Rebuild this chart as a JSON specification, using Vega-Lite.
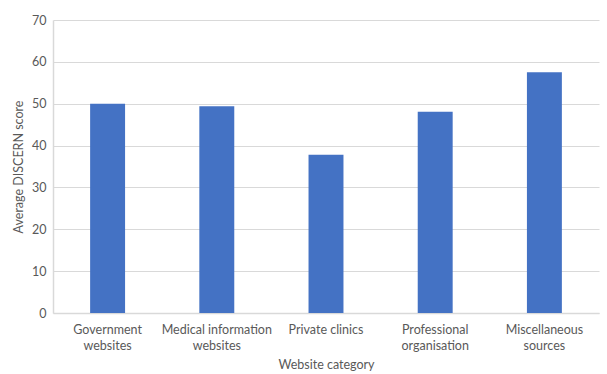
{
  "$schema": "https://vega.github.io/schema/vega-lite/v6.json",
  "width": 546,
  "height": 293,
  "padding": {"left": 12, "top": 14, "right": 4, "bottom": 1},
  "autosize": {"type": "pad"},
  "background": "white",
  "config": {
    "view": {"stroke": null},
    "font": "Lato",
    "axis": {
      "labelFont": "Lato",
      "titleFont": "Lato",
      "labelColor": "#595959",
      "titleColor": "#595959",
      "labelFontSize": 12.5,
      "titleFontSize": 12.5,
      "titleFontWeight": "normal",
      "gridColor": "#d9d9d9",
      "domainColor": "#d9d9d9",
      "domainWidth": 1.5,
      "ticks": false
    }
  },
  "data": {
    "values": [
      {"category": "Government websites", "score": 50.0},
      {"category": "Medical information websites", "score": 49.4},
      {"category": "Private clinics", "score": 37.8},
      {"category": "Professional organisation", "score": 48.1},
      {"category": "Miscellaneous sources", "score": 57.5}
    ]
  },
  "mark": {"type": "bar", "color": "#4472C4"},
  "encoding": {
    "x": {
      "field": "category",
      "type": "nominal",
      "sort": null,
      "title": "Website category",
      "scale": {"paddingInner": 0.68, "paddingOuter": 0.34},
      "axis": {
        "labelAngle": 0,
        "labelPadding": 10,
        "titlePadding": 7,
        "labelLineHeight": 16,
        "grid": false,
        "labelExpr": "datum.label == 'Government websites' ? ['Government', 'websites'] : datum.label == 'Medical information websites' ? ['Medical information', 'websites'] : datum.label == 'Professional organisation' ? ['Professional', 'organisation'] : datum.label == 'Miscellaneous sources' ? ['Miscellaneous', 'sources'] : datum.label"
      }
    },
    "y": {
      "field": "score",
      "type": "quantitative",
      "title": "Average DISCERN score",
      "scale": {"domain": [0, 70]},
      "axis": {
        "values": [0, 10, 20, 30, 40, 50, 60, 70],
        "labelPadding": 7,
        "titlePadding": 6,
        "grid": true
      }
    }
  }
}
